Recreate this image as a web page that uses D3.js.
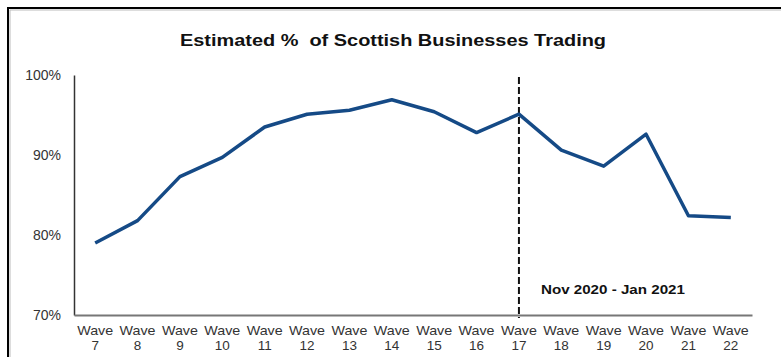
<!DOCTYPE html>
<html>
<head>
<meta charset="utf-8">
<script src="https://cdn.jsdelivr.net/npm/d3@7"></script>
<style>
  html, body { margin: 0; padding: 0; background: #fff; }
  svg { display: block; }
  text { font-family: "Liberation Sans", Arial, sans-serif; }
</style>
</head>
<body>
<svg id="chart" width="781" height="357"></svg>
<script>
// Survey waves and estimated share of businesses trading (%)
const waves = ["7","8","9","10","11","12","13","14","15","16","17","18","19","20","21","22"];
const trading = [79.0, 81.8, 87.3, 89.7, 93.5, 95.1, 95.6, 96.9, 95.4, 92.8, 95.1, 90.6, 88.6, 92.6, 82.4, 82.2];
const yTicks = [70, 80, 90, 100];
const markerWave = "17";
const markerLabel = "Nov 2020 - Jan 2021";
const title = "Estimated %\u00a0 of Scottish Businesses Trading";

const svg = d3.select("#chart");
const W = 781, H = 357;
const margin = { left: 74, right: 29, top: 75, bottom: 42 };

// Outer frame (open on the right and bottom)
svg.append("path")
  .attr("d", `M10,${H + 5} V10 H${W + 5}`)
  .attr("fill", "none").attr("stroke", "#bbb").attr("stroke-width", 1);
svg.append("path")
  .attr("d", `M8,${H + 5} V8 H${W + 5}`)
  .attr("fill", "none").attr("stroke", "#000").attr("stroke-width", 2);

const x = d3.scaleBand().domain(waves).range([margin.left, W - margin.right]);
const cx = d => x(d) + x.bandwidth() / 2;
const y = d3.scaleLinear().domain([70, 100]).range([H - margin.bottom, margin.top]);

// Title
svg.append("text")
  .attr("x", 180).attr("y", 46)
  .attr("font-size", 16.5).attr("font-weight", "bold").attr("fill", "#111")
  .attr("textLength", 426).attr("lengthAdjust", "spacingAndGlyphs")
  .text(title);

// Y axis
const yAxis = svg.append("g")
  .attr("transform", `translate(${margin.left},0)`)
  .call(d3.axisLeft(y).tickValues(yTicks).tickSize(0).tickPadding(13).tickFormat(d => d + "%"));
yAxis.select(".domain").attr("stroke", "#333").attr("stroke-width", 1.5);
yAxis.selectAll("text").attr("font-size", 14).attr("fill", "#333")
  .attr("font-family", "'Liberation Sans', Arial, sans-serif");

// X axis with two-line labels ("Wave" above the wave number)
const xAxis = svg.append("g")
  .attr("transform", `translate(0,${y(70)})`)
  .call(d3.axisBottom(x).tickSize(0).tickFormat(""));
xAxis.select(".domain").attr("stroke", "#777").attr("stroke-width", 2);
xAxis.selectAll(".tick").each(function(d) {
  const g = d3.select(this);
  g.append("text")
    .attr("text-anchor", "middle").attr("font-size", 13.5).attr("fill", "#333")
    .attr("y", 19.5).attr("textLength", 36).attr("lengthAdjust", "spacingAndGlyphs")
    .text("Wave");
  g.append("text")
    .attr("text-anchor", "middle").attr("font-size", 13.5).attr("fill", "#333")
    .attr("y", 35)
    .text(d);
});

// Marker line for the Nov 2020 - Jan 2021 period
svg.append("line")
  .attr("x1", cx(markerWave)).attr("x2", cx(markerWave))
  .attr("y1", y(100) + 2).attr("y2", y(70) + 3)
  .attr("stroke", "#111").attr("stroke-width", 2)
  .attr("stroke-dasharray", "7,3");

svg.append("text")
  .attr("x", cx(markerWave) + 22).attr("y", 294)
  .attr("font-size", 13).attr("font-weight", "bold").attr("fill", "#111")
  .attr("textLength", 144).attr("lengthAdjust", "spacingAndGlyphs")
  .text(markerLabel);

// Trading series
const line = d3.line()
  .x((d, i) => cx(waves[i]))
  .y(d => y(d));
svg.append("path")
  .datum(trading)
  .attr("d", line)
  .attr("fill", "none")
  .attr("stroke", "#154a86")
  .attr("stroke-width", 3.5)
  .attr("stroke-linejoin", "round");
</script>
</body>
</html>
